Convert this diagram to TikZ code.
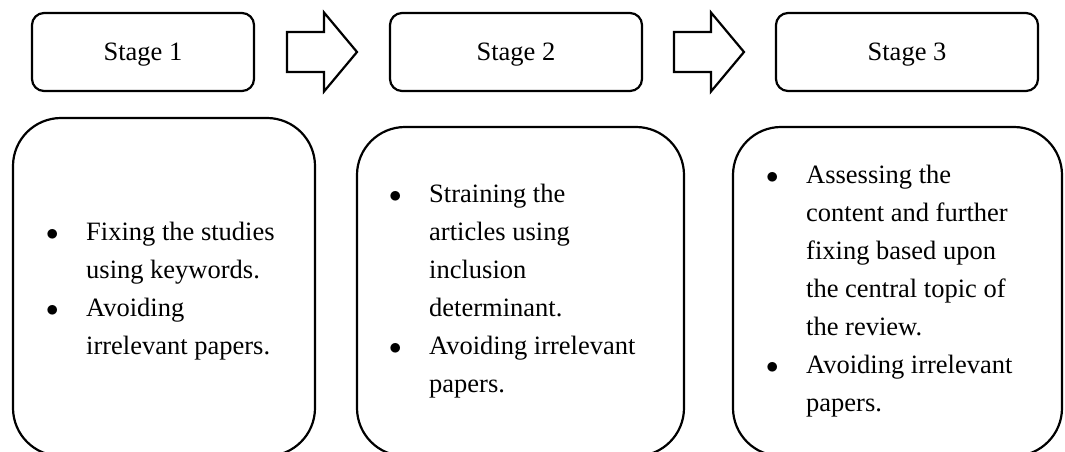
\documentclass[tikz,border=0pt]{standalone}
\usepackage{fontspec}
\setmainfont{Liberation Serif}
\usetikzlibrary{calc}
\tikzset{
    stagebox/.style={draw, line width=2.2pt, rounded corners=12pt, minimum height=78pt, inner sep=0pt, text depth=0pt, font=\fontsize{26.5}{30}\selectfont},
    listbox/.style={draw, line width=2.2pt, rounded corners=48pt, inner sep=0pt},
    listtext/.style={anchor=base west, inner sep=0pt, align=left, font=\fontsize{26.5}{38}\selectfont},
    blockarrow/.style={draw, line width=2.2pt, line join=miter}
}
\newcommand{\bul}{\makebox[40pt][l]{$\bullet$}}
\newcommand{\cont}{\hspace*{40pt}}

\begin{document}
\begin{tikzpicture}[x=1pt, y=-1pt]
            \useasboundingbox (0,0) rectangle (1065,451);
            \clip (0,0) rectangle (1065,451);
            % Stages
            \node[stagebox, minimum width=222pt] (s1) at (143,52) {Stage 1};
            \node[stagebox, minimum width=252pt] (s2) at (516,52) {Stage 2};
            \node[stagebox, minimum width=262pt] (s3) at (907,52) {Stage 3};
            % Arrows between stages
            \foreach \a/\b in {s1/s2, s2/s3} {
                    \coordinate (m) at ($(\a.east)!0.5!(\b.west)$);
                    \draw[blockarrow] ($(m)+(-35,-20)$) -- ++(37,0) -- ++(0,-19.5) -- ++(33,39.5) -- ++(-33,39.5) -- ++(0,-19.5) -- ++(-37,0) -- cycle;
                }
            % Lists (bottom edges run past the page)
            \node[listbox, minimum width=302pt, minimum height=338pt] (b1) at (164,287) {};
            \node[listbox, minimum width=327pt, minimum height=329pt] (b2) at (520.5,291.5) {};
            \node[listbox, minimum width=329pt, minimum height=329pt] (b3) at (897.5,291.5) {};
            \node[listtext] (t1) at (46,354) {\bul Fixing the studies\\ \cont using keywords.\\ \bul Avoiding\\ \cont irrelevant papers.};
            \node[listtext] (t2) at (389,392) {\bul Straining the\\ \cont articles using\\ \cont inclusion\\ \cont determinant.\\ \bul Avoiding irrelevant\\ \cont papers.};
            \node[listtext] (t3) at (766,411) {\bul Assessing the\\ \cont content and further\\ \cont fixing based upon\\ \cont the central topic of\\ \cont the review.\\ \bul Avoiding irrelevant\\ \cont papers.};
        \end{tikzpicture}
\end{document}
